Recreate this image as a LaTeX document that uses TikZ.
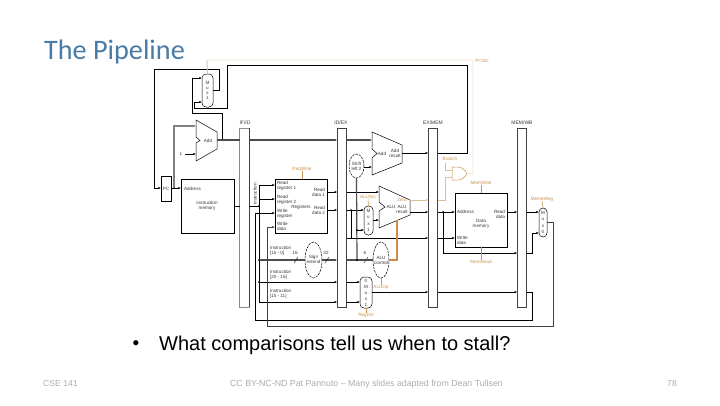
\documentclass[tikz,border=0pt]{standalone}
\usepackage{fontspec}
\setmainfont{Liberation Sans}
\newfontfamily\titlefont{Carlito}
\usetikzlibrary{arrows.meta,shapes.geometric}
\definecolor{titleblue}{HTML}{4A7BA6}
\definecolor{ctrl}{HTML}{C9924E}
\definecolor{ctrlpale}{HTML}{F1E3D2}
\definecolor{ctrlthick}{HTML}{D08A45}
\definecolor{foot}{gray}{0.68}
\definecolor{tiny}{gray}{0.22}
\tikzset{
  x=1pt,y=-1pt,
  lbl/.style={inner sep=0pt,outer sep=0pt,text=tiny,font=\fontsize{4.6}{5.1}\selectfont,align=center},
  lbll/.style={lbl,align=left,anchor=west},
  lblr/.style={lbl,align=right,anchor=east},
  ctl/.style={lbl,text=ctrl},
  pipe/.style={lbl,font=\fontsize{5}{6}\selectfont},
  block/.style={draw=black,line width=0.7pt,fill=white,inner sep=0pt,outer sep=0pt},
  latch/.style={draw=black!75,line width=0.7pt,fill=white,inner sep=0pt,outer sep=0pt,minimum width=9.5pt,minimum height=179pt},
  muxbox/.style={draw=black,line width=0.5pt,fill=white,inner sep=0pt,outer sep=0pt,rounded corners=4pt},
  oval/.style={ellipse,draw=black,line width=0.5pt,dash pattern=on 2.5pt off 1pt,fill=white,inner sep=0pt,outer sep=0pt},
  wire/.style={draw=black,line width=0.75pt},
  awire/.style={wire,-{Latex[length=2.6pt,width=2.2pt]}},
  bus/.style={draw=black!70,line width=1.2pt},
  abus/.style={bus,-{Latex[length=2.6pt,width=2.4pt]}},
  cw/.style={draw=ctrl,line width=0.5pt},
  cwp/.style={draw=ctrlpale,line width=0.8pt},
  slash/.style={draw=black,line width=0.4pt},
  joint/.style={circle,fill=black,inner sep=0pt,minimum size=2pt},
  alu/.style={draw=black,line width=0.5pt,fill=white,line join=miter},
}
\begin{document}
\begin{tikzpicture}
\useasboundingbox (0,0) rectangle (720,405);
\fill[white] (0,0) rectangle (720,405);

% ---- slide text
\node[inner sep=0pt,anchor=base west,text=titleblue,font=\titlefont\fontsize{28.2}{32}\selectfont] (title) at (44,59) {The Pipeline};
\node[inner sep=0pt,anchor=center,font=\fontsize{19}{20}\selectfont] (bullet) at (136,345) {•};
\node[inner sep=0pt,anchor=west,font=\fontsize{20}{22}\selectfont] (point) at (159,345.5) {What comparisons tell us when to stall?};
\node[inner sep=0pt,anchor=west,text=foot,font=\fontsize{8.6}{10}\selectfont] (fl) at (43,384) {CSE 141};
\node[inner sep=0pt,anchor=center,text=foot,font=\fontsize{8.8}{10}\selectfont] (fc) at (366.5,384) {CC BY-NC-ND Pat Pannuto – Many slides adapted from Dean Tullsen};
\node[inner sep=0pt,anchor=center,text=foot,font=\fontsize{8.6}{10}\selectfont] (fr) at (672,384) {78};

% ---- blocks
\node[block,minimum width=10pt,minimum height=25pt] (pc) at (166,188.5) {};
\node[block,minimum width=53pt,minimum height=54pt] (im) at (207.5,206) {};
\node[block,minimum width=52pt,minimum height=54pt] (regs) at (301,206) {};
\node[block,minimum width=52pt,minimum height=54pt] (dm) at (481,220) {};
\node[latch,draw=black!45] (ifid) at (244.5,217.5) {};
\draw[draw=black!75,line width=0.7pt] (ifid.north east) -- (ifid.south east);
\node[latch] (idex) at (342,217.5) {};
\node[latch] (exmem) at (433,217.5) {};
\node[latch] (memwb) at (522,217.5) {};
\node[muxbox,minimum width=11pt,minimum height=33pt] (muxa) at (207.5,90.5) {};
\node[muxbox,minimum width=9pt,minimum height=29pt] (muxb) at (368.5,220.5) {};
\node[muxbox,minimum width=12pt,minimum height=31pt] (muxc) at (366,292.5) {};
\node[muxbox,minimum width=8pt,minimum height=29pt] (muxd) at (543,222.5) {};
\node[oval,minimum width=15pt,minimum height=24pt] (shift) at (356.5,166) {};
\node[oval,minimum width=17pt,minimum height=36pt] (sext) at (313.5,260) {};
\node[oval,minimum width=16pt,minimum height=36pt] (aluc) at (381,260) {};

% ---- adders and ALU
\draw[alu] (196,120) -- (217,132) -- (217,149) -- (196,161) -- (196,143) -- (200,140.5) -- (196,137) -- cycle;
\draw[alu] (372,132) -- (402,145) -- (402,163) -- (372,175) -- (372,158) -- (377,153.5) -- (372,149) -- cycle;
\draw[alu] (379,186) -- (410,200) -- (410,215) -- (379,228) -- (379,211) -- (385,207) -- (379,202) -- cycle;
\coordinate (addIn1) at (196,126);
\coordinate (addIn2) at (196,154);
\coordinate (addOut) at (217,140);
\coordinate (braIn1) at (372,140);
\coordinate (braIn2) at (372,167);
\coordinate (braOut) at (402,153);
\coordinate (aluIn1) at (379,192);
\coordinate (aluIn2) at (379,220);
\coordinate (aluZero) at (410,200);
\coordinate (aluRes) at (410,212);
\coordinate (aluCtl) at (397,220);

% ---- AND gate
\draw[draw=ctrl,line width=0.5pt,fill=white] (452,167) -- (458,167) .. controls (462,167) and (465,170) .. (467,173.5) .. controls (465,177) and (462,180) .. (458,180) -- (452,180) -- cycle;
\coordinate (andIn1) at (452,170);
\coordinate (andIn2) at (452,177);
\coordinate (andOut) at (467,173.5);

% ---- named pins
\coordinate (muxaIn0) at (202,78);
\coordinate (muxaIn1) at (202,102);
\coordinate (muxaOut) at (213,90);
\coordinate (one) at (185,154);
\coordinate (iBus) at (259,206);
\coordinate (rr1) at (275,185);
\coordinate (rr2) at (275,199);
\coordinate (wr) at (275,213);
\coordinate (wd) at (275,227);
\coordinate (rd1) at (327,192);
\coordinate (rd2) at (327,210);
\coordinate (dmAddr) at (455,212);
\coordinate (dmWd) at (455,238);
\coordinate (dmRd) at (507,212);

% ---- PC loop
\draw[awire] (muxaOut) -- (219,90) -- (219,69) -- (154,69) -- (154,188) -- (pc.west|-0,188);
\draw[awire] (exmem.east|-braOut) -- (467,153) -- (467,65) -- (227,65) -- (227,108) -- (194,108) -- (194,102) -- (muxaIn1);
\draw[awire] (222,140) -- (222,113) -- (192,113) -- (192,78) -- (muxaIn0);
\draw[awire] (pc.east|-0,188) -- (im.west|-0,188);
\draw[abus,draw=black!50] (174,188) -- (174,126) -- (addIn1);
\draw[awire] (one) -- (addIn2);
\draw[bus] (addOut) -- (ifid.west|-addOut);
\draw[abus] (ifid.east|-addOut) -- (idex.west|-addOut);
\draw[abus] (idex.east|-addOut) -- (braIn1);
\draw[awire] (shift.east|-braIn2) -- (braIn2);
\draw[awire] (braOut) -- (exmem.west|-braOut);

% ---- instruction bus
\draw[wire] (im.east|-iBus) -- (ifid.west|-iBus);
\draw[wire] (ifid.east|-iBus) -- (iBus);
\draw[wire] (259,185) -- (259,302);
\draw[awire] (259,185) -- (rr1);
\draw[awire] (259,199) -- (rr2);
\draw[bus] (259,260) -- (sext.west);
\draw[abus] (sext.east) -- (idex.west|-sext.east);
\draw[awire] (259,282) -- (idex.west|-0,282);
\draw[awire] (259,302) -- (idex.west|-0,302);
\node[joint] (j1) at (259,206) {};
\node[joint] (j2) at (259,260) {};
\node[joint] (j3) at (259,282) {};
\draw[slash] (294,263) -- (298,257);
\draw[slash] (325,263) -- (329,257);
\draw[slash] (364,263) -- (368,257);

% ---- register outputs
\draw[awire] (rd1) -- (idex.west|-rd1);
\draw[awire] (rd2) -- (idex.west|-rd2);
\draw[awire] (idex.east|-rd1) -- (aluIn1);
\draw[awire] (idex.east|-rd2) -- (muxb.west|-rd2);
\draw[awire] (351,210) -- (351,238) -- (exmem.west|-0,238);
\draw[bus] (idex.east|-sext.east) -- (aluc.west);
\draw[bus] (357,260) -- (shift.south);
\draw[awire] (357,230) -- (muxb.west|-0,230);
\draw[awire] (muxb.east|-aluIn2) -- (aluIn2);
\node[joint] (j4) at (351,210) {};
\node[joint] (j5) at (357,230) {};
\node[joint] (j6) at (357,260) {};

% ---- EX/MEM outputs
\draw[awire] (aluRes) -- (exmem.west|-aluRes);
\draw[awire] (exmem.east|-aluRes) -- (dmAddr);
\draw[awire] (exmem.east|-dmWd) -- (dmWd);
\draw[awire] (443,212) -- (443,253) -- (memwb.west|-0,253);
\node[joint] (j7) at (443,212) {};
\draw[awire] (dmRd) -- (memwb.west|-dmRd);
\draw[awire] (memwb.east|-dmRd) -- (muxd.west|-dmRd);
\draw[awire] (memwb.east|-0,253) -- (532,253) -- (532,233) -- (muxd.west|-0,233);

% ---- write-back
\draw[awire] (muxc.east|-0,292) -- (exmem.west|-0,292);
\draw[awire] (exmem.east|-0,292) -- (memwb.west|-0,292);
\draw[awire] (memwb.east|-0,292) -- (532,292) -- (532,320) -- (255,320) -- (255,213) -- (wr);
\draw[awire,draw=black!75] (muxd.east|-0,222) -- (553,222) -- (553,326) -- (267,326) -- (267,227) -- (wd);
\draw[awire] (idex.east|-0,282) -- (muxc.west|-0,282);
\draw[awire] (idex.east|-0,302) -- (muxc.west|-0,302);
\draw[wire] (idex.east|-0,238) -- (351,238);

% ---- control lines
\draw[cwp] (andOut) -- (473,173.5) -- (473,60) -- (207,60) -- (muxa.north);
\draw[draw=ctrl!70,line width=0.5pt] (207,60) -- (muxa.north);
\node[ctl] (lPCSrc) at (482,61) {PCSrc};
\node[ctl] (lRegWrite) at (302,169) {RegWrite};
\draw[cw] (lRegWrite.south) -- (regs.north-|lRegWrite.south);
\node[ctl] (lBranch) at (450,159) {Branch};
\draw[cw,draw=ctrl!60] (445,163) -- (445,170) -- (andIn1);
\draw[cw,draw=ctrl!60,-{Latex[length=2.4pt,width=2pt]}] (aluZero) -- (exmem.west|-aluZero);
\draw[cw,draw=ctrl!60] (exmem.east|-aluZero) -- (445,200) -- (445,177) -- (andIn2);
\node[ctl] (lZero) at (402,200) {Zero};
\node[ctl] (lMemWrite) at (481,183) {MemWrite};
\draw[draw=ctrl,line width=1pt] (lMemWrite.south-|dm.north) -- (dm.north);
\node[ctl] (lMemRead) at (481,262) {MemRead};
\draw[draw=ctrl,line width=1pt] (dm.south) -- (lMemRead.north-|dm.south);
\node[ctl] (lMemtoReg) at (542,199) {MemtoReg};
\draw[cw] (lMemtoReg.south) -- (muxd.north);
\node[ctl] (lALUSrc) at (368,197) {ALUSrc};
\draw[cw] (lALUSrc.south) -- (muxb.north);
\node[ctl] (lALUOp) at (381,287) {ALUOp};
\draw[cw] (aluc.south) -- (lALUOp.north);
\node[ctl] (lRegDst) at (366,315) {RegDst};
\draw[cw] (muxc.south) -- (lRegDst.north);
\draw[draw=ctrlthick,line width=1.4pt] (aluc.east) -- (397,260) -- (aluCtl);

% ---- pipeline labels
\node[pipe] (pIFID) at (245,123) {IF/ID};
\node[pipe] (pIDEX) at (341,123) {ID/EX};
\node[pipe] (pEXMEM) at (433,123) {EX/MEM};
\node[pipe] (pMEMWB) at (522,123) {MEM/WB};

% ---- block labels
\node[lbl] (tAdd) at (208,140.5) {Add};
\node[lbl] (tOne) at (181,154) {1};
\node[lbl] (tPC) at (166,189) {PC};
\node[lbll] (tAddr) at (184,189) {Address};
\node[lbl] (tIM) at (207,206) {Instruction\\memory};
\node[lbl,rotate=90] (tInst) at (255,194) {Instruction};
\node[lbll] (tR1) at (277,185.5) {Read\\register 1};
\node[lbll] (tR2) at (277,199.5) {Read\\register 2};
\node[lbll] (tW1) at (277,213.5) {Write\\register};
\node[lbll] (tW2) at (277,226.5) {Write\\data};
\node[lbl] (tRegs) at (301,207) {Registers};
\node[lblr] (tD1) at (325,192.5) {Read\\data 1};
\node[lblr] (tD2) at (325,210.5) {Read\\data 2};
\node[lbl] (tSx) at (313.5,259) {Sign\\extend};
\node[lbl] (t16) at (295,253) {16};
\node[lbl] (t32) at (326,253) {32};
\node[lbl] (t6) at (365,253) {6};
\node[lbll] (tI1) at (270,251) {Instruction\\{[15 - 0]}};
\node[lbll] (tI2) at (270,275) {Instruction\\{[20 - 16]}};
\node[lbll] (tI3) at (270,294) {Instruction\\{[15 - 11]}};
\node[lbl] (tSh) at (356.5,166) {Shift\\left 2};
\node[lbl] (tAdd2) at (382,153.5) {Add};
\node[lbl] (tAddRes) at (395,153.5) {Add\\result};
\node[lbl] (tALU) at (391,207) {ALU};
\node[lbl] (tAluRes) at (402,209.5) {ALU\\result};
\node[lbl] (tAC) at (381,260) {ALU\\control};
\node[lbll] (tDA) at (457,212) {Address};
\node[lbl] (tDM) at (481,224) {Data\\memory};
\node[lblr] (tDR) at (505,214) {Read\\data};
\node[lbll] (tDW) at (457,240) {Write\\data};
\node[lbl] (mA) at (207.5,90.5) {M\\u\\x\\1};
\node[lbl,font=\fontsize{4.6}{6.2}\selectfont] (mB) at (368.5,220.5) {M\\u\\x\\1};
\node[lbl,font=\fontsize{4.6}{6}\selectfont] (mC) at (366,292.5) {0\\M\\u\\x\\1};
\node[lbl,font=\fontsize{4.6}{6.2}\selectfont] (mD) at (543,222.5) {M\\u\\x\\0};
\end{tikzpicture}
\end{document}
